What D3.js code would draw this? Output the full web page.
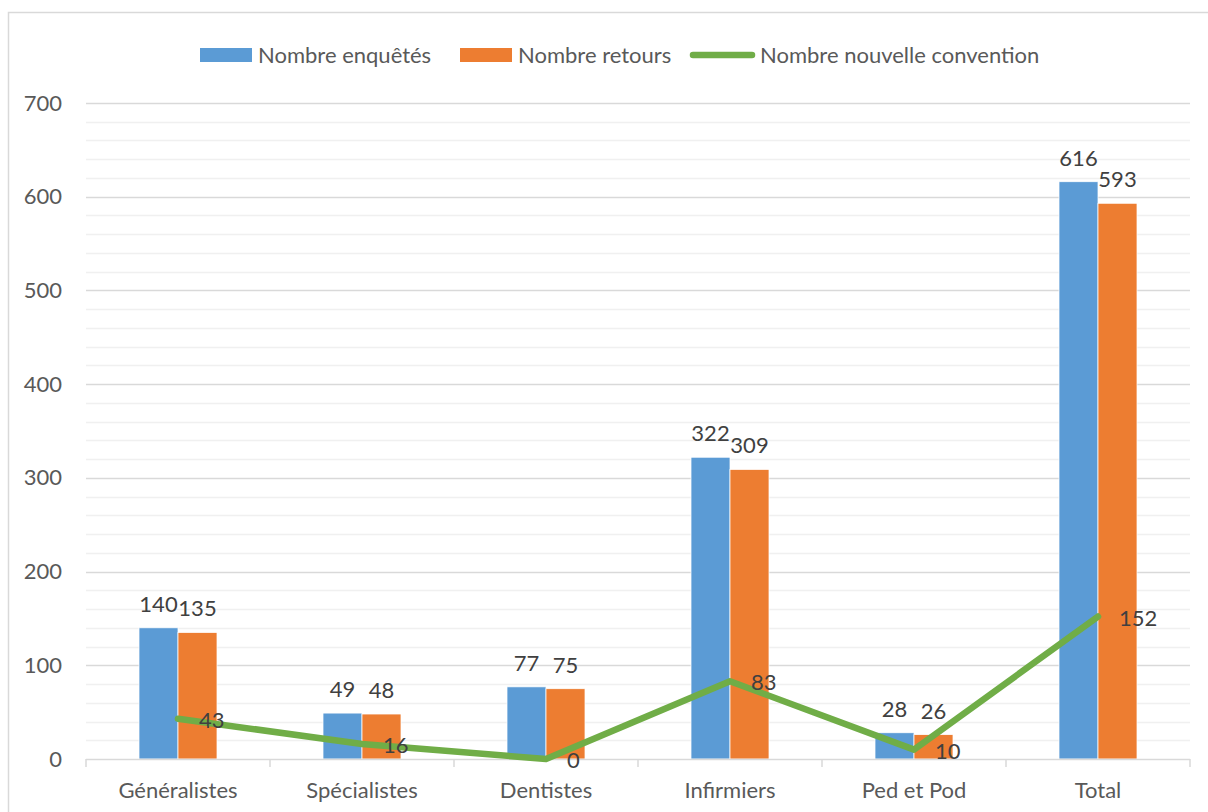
<!DOCTYPE html>
<html>
<head>
<meta charset="utf-8">
<script src="https://cdn.jsdelivr.net/npm/d3@7"></script>
<style>
  html, body { margin: 0; padding: 0; background: #fff; }
  svg { display: block; font-family: Lato, "Liberation Sans", sans-serif; }
</style>
</head>
<body>
<svg id="chart" width="1208" height="812"></svg>
<script>
// Survey counts per professional category
const categories = ["Généralistes", "Spécialistes", "Dentistes", "Infirmiers", "Ped et Pod", "Total"];
const enquetes   = [140, 49, 77, 322, 28, 616];
const retours    = [135, 48, 75, 309, 26, 593];
const convention = [43, 16, 0, 83, 10, 152];
const yTicks     = [0, 100, 200, 300, 400, 500, 600, 700];
const seriesNames = ["Nombre enquêtés", "Nombre retours", "Nombre nouvelle convention"];

const colors = { blue: "#5B9BD5", orange: "#ED7D31", green: "#70AD47" };
const textColor = "#595959";
const labelColor = "#404040";
const fs = 22;

const svg = d3.select("#chart");

// outer chart frame
svg.append("rect")
  .attr("x", 8.5).attr("y", 12.5)
  .attr("width", 1220).attr("height", 820)
  .attr("fill", "none").attr("stroke", "#d9d9d9").attr("stroke-width", 1.5);

const plot = { left: 86, right: 1190, top: 103, bottom: 759 };

const x = d3.scaleBand().domain(categories).range([plot.left, plot.right]);
const y = d3.scaleLinear().domain([0, 700]).range([plot.bottom, plot.top]);

// minor gridlines every 20
const minor = d3.range(20, 700, 20).filter(v => v % 100 !== 0);
svg.append("g").selectAll("line").data(minor).join("line")
  .attr("x1", plot.left).attr("x2", plot.right)
  .attr("y1", d => Math.round(y(d)) + 0.5).attr("y2", d => Math.round(y(d)) + 0.5)
  .attr("stroke", "#f0f0f0").attr("stroke-width", 1.5);

// major gridlines
svg.append("g").selectAll("line").data(yTicks.filter(v => v > 0)).join("line")
  .attr("x1", plot.left).attr("x2", plot.right)
  .attr("y1", d => Math.round(y(d)) + 0.5).attr("y2", d => Math.round(y(d)) + 0.5)
  .attr("stroke", "#d9d9d9").attr("stroke-width", 1.5);

// y axis labels
const yAxis = d3.axisLeft(y).tickValues(yTicks).tickSize(0).tickPadding(0);
const gy = svg.append("g").attr("transform", `translate(62,0)`).call(yAxis);
gy.select(".domain").remove();
gy.selectAll("text")
  .attr("font-size", fs).attr("fill", textColor)
  .attr("font-family", "Lato, 'Liberation Sans', sans-serif");

// bars
const barW = 39;
const groups = svg.append("g").selectAll("g").data(categories).join("g");
groups.append("rect")
  .attr("x", (d) => x(d) + x.bandwidth() / 2 - barW)
  .attr("y", (d, i) => y(enquetes[i]))
  .attr("width", barW)
  .attr("height", (d, i) => y(0) - y(enquetes[i]))
  .attr("fill", colors.blue).attr("stroke", "#fff").attr("stroke-width", 0.75);
groups.append("rect")
  .attr("x", (d) => x(d) + x.bandwidth() / 2)
  .attr("y", (d, i) => y(retours[i]))
  .attr("width", barW)
  .attr("height", (d, i) => y(0) - y(retours[i]))
  .attr("fill", colors.orange).attr("stroke", "#fff").attr("stroke-width", 0.75);

// x axis line and ticks between categories
const gx = svg.append("g");
gx.append("line")
  .attr("x1", plot.left).attr("x2", plot.right)
  .attr("y1", plot.bottom + 0.5).attr("y2", plot.bottom + 0.5)
  .attr("stroke", "#d9d9d9").attr("stroke-width", 1.5);
const bounds = categories.map(c => x(c)).concat([plot.right]);
gx.selectAll("line.tick").data(bounds).join("line").attr("class", "tick")
  .attr("x1", d => d).attr("x2", d => d)
  .attr("y1", plot.bottom).attr("y2", plot.bottom + 8)
  .attr("stroke", "#d9d9d9").attr("stroke-width", 1.5);
gx.selectAll("text").data(categories).join("text")
  .attr("x", d => x(d) + x.bandwidth() / 2)
  .attr("y", 798)
  .attr("text-anchor", "middle")
  .attr("font-size", fs).attr("fill", textColor)
  .text(d => d);

// bar value labels
groups.append("text")
  .attr("x", d => x(d) + x.bandwidth() / 2 - barW / 2)
  .attr("y", (d, i) => y(enquetes[i]) - 16)
  .attr("text-anchor", "middle").attr("font-size", fs).attr("fill", labelColor)
  .text((d, i) => enquetes[i]);
groups.append("text")
  .attr("x", d => x(d) + x.bandwidth() / 2 + barW / 2)
  .attr("y", (d, i) => y(retours[i]) - 16)
  .attr("text-anchor", "middle").attr("font-size", fs).attr("fill", labelColor)
  .text((d, i) => retours[i]);

// convention line
const line = d3.line()
  .x((d, i) => x(categories[i]) + x.bandwidth() / 2)
  .y(d => y(d));
svg.append("path").datum(convention)
  .attr("d", line)
  .attr("fill", "none").attr("stroke", colors.green)
  .attr("stroke-width", 6.5).attr("stroke-linejoin", "round").attr("stroke-linecap", "round");

svg.append("g").selectAll("text").data(convention).join("text")
  .attr("x", (d, i) => x(categories[i]) + x.bandwidth() / 2 + 21)
  .attr("y", d => y(d) + 9)
  .attr("font-size", fs).attr("fill", labelColor)
  .text(d => d);

// legend
const legend = svg.append("g");
const legendItems = [
  { name: seriesNames[0], color: colors.blue, type: "rect", x: 200 },
  { name: seriesNames[1], color: colors.orange, type: "rect", x: 460 },
  { name: seriesNames[2], color: colors.green, type: "line", x: 690 }
];
legendItems.forEach(it => {
  if (it.type === "rect") {
    legend.append("rect").attr("x", it.x).attr("y", 48).attr("width", 52).attr("height", 14).attr("fill", it.color);
    legend.append("text").attr("x", it.x + 58).attr("y", 63).attr("font-size", fs).attr("fill", textColor).text(it.name);
  } else {
    legend.append("line").attr("x1", it.x + 3).attr("x2", it.x + 62).attr("y1", 55).attr("y2", 55)
      .attr("stroke", it.color).attr("stroke-width", 6.5).attr("stroke-linecap", "round");
    legend.append("text").attr("x", it.x + 70).attr("y", 63).attr("font-size", fs).attr("fill", textColor).text(it.name);
  }
});
</script>
</body>
</html>
